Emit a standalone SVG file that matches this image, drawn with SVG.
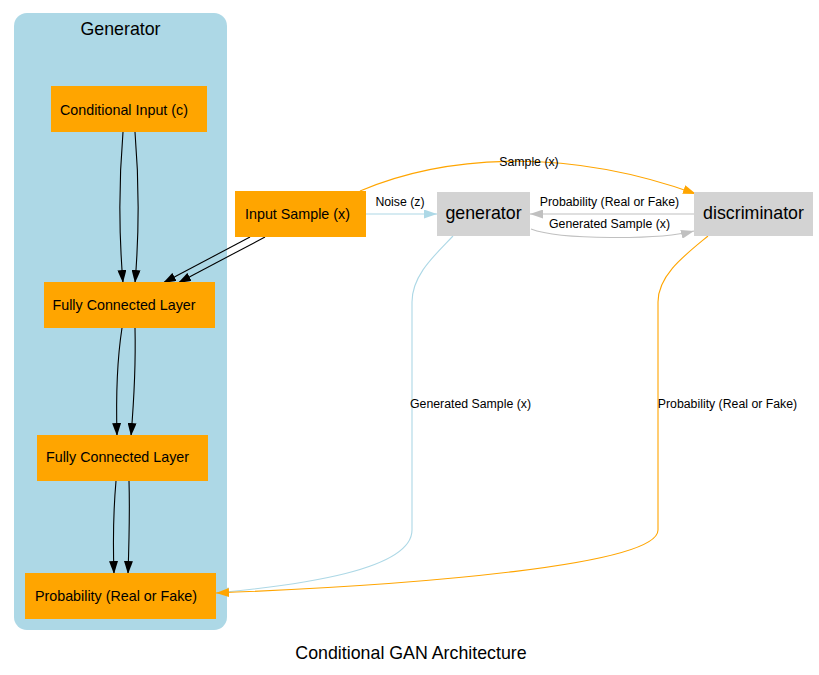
<svg xmlns="http://www.w3.org/2000/svg" width="819" height="675" viewBox="0 0 819 675">
<style>
text{font-family:"Liberation Sans",Arial,Helvetica,sans-serif;fill:#000;text-anchor:middle}
.n{font-size:14.3px}
.big{font-size:17.8px}
.el{font-size:12.3px}
.orange{fill:#ffa500}
.gray{fill:#d3d3d3}
.e{fill:none;stroke-width:1.1}
.k{stroke:#000}
.b{stroke:#add8e6}
.o{stroke:#ffa500}
.s{stroke:#c0c0c0}
</style>
<defs>
<marker id="ak" viewBox="0 0 13 9" refX="13" refY="4.5" markerWidth="13" markerHeight="9" markerUnits="userSpaceOnUse" orient="auto"><path d="M0,0 L13,4.5 L0,9 z" fill="#000"/></marker>
<marker id="ab" viewBox="0 0 13 9" refX="13" refY="4.5" markerWidth="13" markerHeight="9" markerUnits="userSpaceOnUse" orient="auto"><path d="M0,0 L13,4.5 L0,9 z" fill="#add8e6"/></marker>
<marker id="ao" viewBox="0 0 13 9" refX="13" refY="4.5" markerWidth="13" markerHeight="9" markerUnits="userSpaceOnUse" orient="auto"><path d="M0,0 L13,4.5 L0,9 z" fill="#ffa500"/></marker>
<marker id="as" viewBox="0 0 13 9" refX="13" refY="4.5" markerWidth="13" markerHeight="9" markerUnits="userSpaceOnUse" orient="auto"><path d="M0,0 L13,4.5 L0,9 z" fill="#c0c0c0"/></marker>
</defs>
<rect width="819" height="675" fill="#fff"/>
<g id="cluster_generator">
<rect x="14" y="13" width="213" height="617" rx="13" ry="13" fill="#add8e6"/>
<text class="big" x="120.5" y="35">Generator</text>
</g>
<g id="connectors">
<path class="e k" d="M123,132 C119,180 119,235 123,283" marker-end="url(#ak)"/>
<path class="e k" d="M135,132 C139,180 139,235 135,283" marker-end="url(#ak)"/>
<path class="e k" d="M250,237 L163,283" marker-end="url(#ak)"/>
<path class="e k" d="M265,237 L178,283" marker-end="url(#ak)"/>
<path class="e k" d="M122,328 C117,360 116,400 117,436" marker-end="url(#ak)"/>
<path class="e k" d="M135,328 C136,370 134,400 131,436" marker-end="url(#ak)"/>
<path class="e k" d="M116,481 C113,515 113,545 114,574" marker-end="url(#ak)"/>
<path class="e k" d="M129,481 C130,515 129,545 128,574" marker-end="url(#ak)"/>
<path class="e b" d="M366,214 L437,214" marker-end="url(#ab)"/>
<path class="e o" d="M360,191 C440,157 560,145 696,194" marker-end="url(#ao)"/>
<path class="e s" d="M694,214 L530,214" marker-end="url(#as)"/>
<path class="e s" d="M531,229 C560,240 660,240 694,231" marker-end="url(#as)"/>
<path class="e b" d="M453,236 C435,255 412,275 412,302 L412,530 C412,570 300,585 216,593" marker-end="url(#ab)"/>
<path class="e o" d="M708,236 C685,255 658,275 658,302 L658,530 C658,565 420,585 216,593" marker-end="url(#ao)"/>
<text class="el" x="400" y="206">Noise (z)</text>
<text class="el" x="529" y="166">Sample (x)</text>
<text class="el" x="609.5" y="206">Probability (Real or Fake)</text>
<text class="el" x="609.5" y="228">Generated Sample (x)</text>
<text class="el" x="470.5" y="408">Generated Sample (x)</text>
<text class="el" x="727.5" y="408">Probability (Real or Fake)</text>
</g>
<g id="cond_input">
<rect class="orange" x="51" y="86" width="156" height="46"/>
<text class="n" x="124" y="114.5">Conditional Input (c)</text>
</g>
<g id="input_sample">
<rect class="orange" x="235" y="191" width="131" height="46"/>
<text class="n" x="297.5" y="219">Input Sample (x)</text>
</g>
<g id="fc1">
<rect class="orange" x="44" y="282" width="171" height="46"/>
<text class="n" x="124" y="310">Fully Connected Layer</text>
</g>
<g id="fc2">
<rect class="orange" x="37" y="435" width="171" height="46"/>
<text class="n" x="117.5" y="462">Fully Connected Layer</text>
</g>
<g id="probability">
<rect class="orange" x="25" y="573" width="191" height="46"/>
<text class="n" x="116" y="601">Probability (Real or Fake)</text>
</g>
<g id="generator">
<rect class="gray" x="437" y="192" width="93" height="44"/>
<text class="big" x="483.5" y="219">generator</text>
</g>
<g id="discriminator">
<rect class="gray" x="694" y="192" width="119" height="44"/>
<text class="big" x="753.5" y="219">discriminator</text>
</g>
<text class="big" x="411" y="659">Conditional GAN Architecture</text>
</svg>
